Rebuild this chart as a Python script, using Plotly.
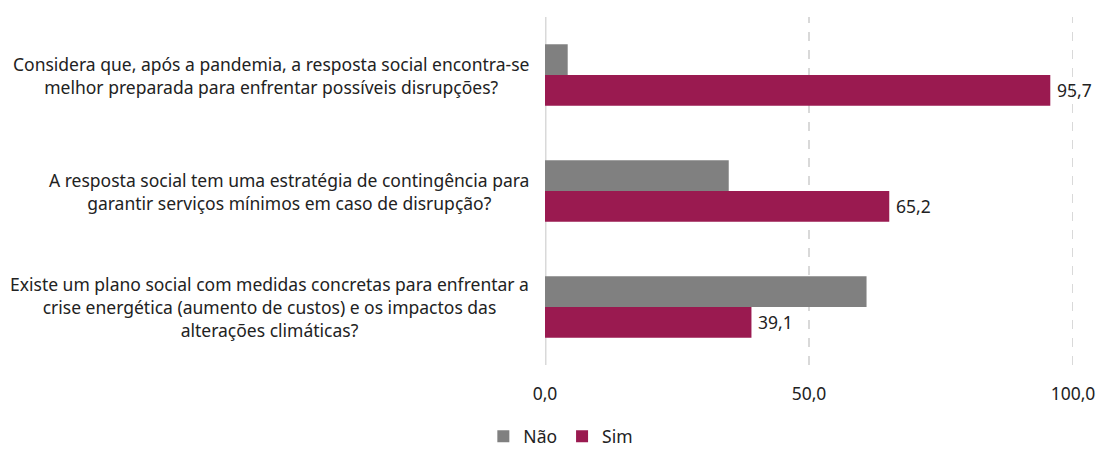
import plotly.graph_objects as go

categories = [
    "Considera que, após a pandemia, a resposta social encontra-se<br>melhor preparada para enfrentar possíveis disrupções?",
    "A resposta social tem uma estratégia de contingência para<br>garantir serviços mínimos em caso de disrupção?",
    "Existe um plano social com medidas concretas para enfrentar a<br>crise energética (aumento de custos) e os impactos das<br>alterações climáticas?",
]
nao = [4.3, 34.8, 60.9]
sim = [95.7, 65.2, 39.1]
tick_vals = [0, 50, 100]

FONT = "Noto Sans"
FS = 17.5
TXT = "#222222"
fig = go.Figure()
fig.add_trace(go.Bar(y=categories, x=nao, name="Não", orientation="h",
                     marker=dict(color="#808080", line=dict(width=0))))
fig.add_trace(go.Bar(y=categories, x=sim, name="Sim", orientation="h",
                     marker=dict(color="#9A1A50", line=dict(width=0))))

for c, v in zip(categories, sim):
    fig.add_annotation(x=0, xref="paper", y=c, yref="y", text=c, showarrow=False,
                       xanchor="right", align="center", xshift=-14,
                       font=dict(size=FS, color=TXT, family=FONT))
    fig.add_annotation(x=v, xref="x", y=c, yref="y", text=f"{v:.1f}".replace(".", ","),
                       showarrow=False, xanchor="left", yanchor="middle",
                       xshift=5, yshift=-15,
                       font=dict(size=FS, color=TXT, family=FONT))

for t in tick_vals[1:]:
    fig.add_shape(type="line", xref="x", yref="paper", x0=t, x1=t, y0=0, y1=1,
                  line=dict(color="#d9d9d9", width=2, dash="dash"), layer="below")
fig.add_shape(type="line", xref="x", yref="paper", x0=0, x1=0, y0=0, y1=1,
              line=dict(color="#d9d9d9", width=3), layer="below")

fig.update_layout(
    width=1101, height=450,
    margin=dict(l=545, r=28, t=17, b=85, autoexpand=False),
    paper_bgcolor="white", plot_bgcolor="white",
    separators=",.",
    barmode="group", bargap=0.47, bargroupgap=0,
    font=dict(family=FONT, size=FS, color=TXT),
    showlegend=True,
    legend=dict(orientation="h", xref="paper", x=0.030, xanchor="center",
                yref="paper", y=-0.205, yanchor="middle",
                font=dict(size=FS, family=FONT, color=TXT),
                itemwidth=30, traceorder="normal"),
    xaxis=dict(range=[0, 100], tickvals=tick_vals, tickformat=".1f",
               showgrid=False, zeroline=False, showline=False, ticks="",
               automargin=False,
               tickfont=dict(size=FS, family=FONT, color=TXT), ticklabelstandoff=16),
    yaxis=dict(autorange="reversed", showticklabels=False, showgrid=False,
               zeroline=False, showline=False, ticks="", automargin=False),
)

fig.write_html("out.html", config={"displayModeBar": False},
               post_script="document.body.style.margin='0';document.body.style.overflow='hidden';")
